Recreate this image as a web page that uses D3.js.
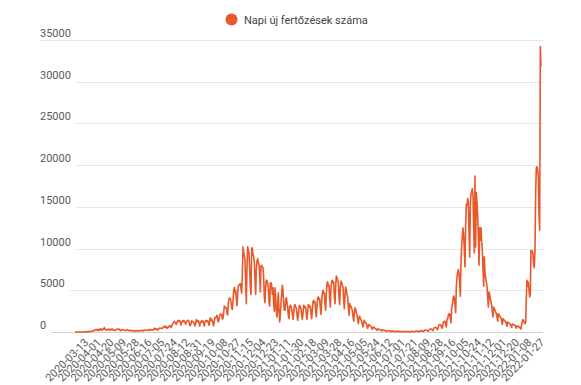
<!DOCTYPE html>
<html>
<head>
<meta charset="utf-8">
<script src="https://cdnjs.cloudflare.com/ajax/libs/d3/7.8.5/d3.min.js"></script>
<style>
  body { margin: 0; background: #fff; }
  text { font-family: Roboto, "Noto Sans", sans-serif; }
</style>
</head>
<body>
<div id="chart"></div>
<script>
const seriesName = "Napi új fertőzések száma";

// every 19th day gets a label, starting at the 17th data point
const labelStart = 16;
const labelStep = 19;
const tickLabels = [
  "2020-03-13", "2020-04-01", "2020-04-20", "2020-05-09", "2020-05-28", "2020-06-16",
  "2020-07-05", "2020-07-24", "2020-08-12", "2020-08-31", "2020-09-19", "2020-10-08",
  "2020-10-27", "2020-11-15", "2020-12-04", "2020-12-23", "2021-01-11", "2021-01-30",
  "2021-02-18", "2021-03-09", "2021-03-28", "2021-04-16", "2021-05-05", "2021-05-24",
  "2021-06-12", "2021-07-01", "2021-07-21", "2021-08-09", "2021-08-28", "2021-09-16",
  "2021-10-05", "2021-10-24", "2021-11-12", "2021-12-01", "2021-12-20", "2022-01-08",
  "2022-01-27"
];

const yTicks = [0, 5000, 10000, 15000, 20000, 25000, 30000, 35000];

// daily new cases, one row per week
const dailyCases = [
  1, 0, 1, 1, 0, 0, 0,
  2, 1, 3, 2, 1, 3, 2,
  14, 20, 30, 40, 22, 25, 45,
  60, 30, 47, 58, 66, 143, 186,
  144, 123, 263, 308, 293, 199, 308,
  264, 162, 294, 374, 383, 193, 271,
  355, 320, 523, 347, 307, 228, 246,
  333, 268, 359, 243, 231, 344, 268,
  368, 231, 226, 190, 196, 242, 237,
  337, 349, 328, 356, 245, 160, 253,
  224, 305, 267, 241, 213, 180, 168,
  205, 202, 287, 236, 158, 170, 190,
  139, 183, 168, 136, 130, 163, 118,
  134, 156, 165, 134, 160, 115, 142,
  153, 190, 202, 166, 113, 206, 230,
  174, 220, 209, 216, 197, 200, 183,
  320, 265, 225, 278, 221, 235, 283,
  460, 320, 331, 422, 325, 223, 294,
  422, 471, 441, 459, 439, 398, 555,
  614, 698, 555, 597, 664, 421, 574,
  560, 668, 777, 698, 531, 694, 889,
  1030, 1112, 1284, 1119, 1104, 901, 1151,
  1356, 1295, 1366, 1378, 1045, 849, 1152,
  1329, 1215, 1392, 1309, 1145, 943, 1227,
  1324, 1415, 1408, 1245, 834, 746, 1015,
  1346, 1301, 1182, 1177, 873, 733, 1103,
  1504, 1245, 1284, 1379, 1138, 715, 1067,
  1243, 1358, 1173, 1311, 1061, 697, 1175,
  1380, 1400, 1261, 1347, 1080, 810, 1345,
  1700, 1400, 1500, 1350, 1000, 750, 1350,
  1750, 1750, 1800, 2000, 1450, 1200, 1600,
  1950, 2150, 2100, 2100, 1550, 1600, 2350,
  3100, 2950, 2950, 2900, 2250, 2050, 3500,
  4000, 4000, 4050, 3600, 2900, 2700, 3650,
  4850, 5350, 4700, 5000, 3950, 3150, 4650,
  5550, 5600, 5750, 5800, 5200, 4650, 6900,
  10200, 9600, 9100, 8700, 6000, 3400, 7700,
  10200, 9800, 9500, 7700, 5300, 4500, 10100,
  10000, 9300, 9000, 8300, 6200, 4500, 7600,
  8500, 8800, 8400, 8100, 6800, 4800, 7900,
  8000, 7800, 7700, 6500, 4200, 3500, 5500,
  6200, 6200, 5800, 5300, 3700, 3100, 5900,
  5900, 5600, 4500, 5300, 3400, 2500, 5300,
  4200, 2500, 1800, 3200, 4700, 2500, 1200,
  2000, 3500, 4500, 5600, 5000, 3500, 2600,
  2600, 3800, 4100, 3500, 3000, 2000, 1600,
  3000, 3200, 3100, 2800, 2200, 1500, 2200,
  3100, 3300, 3000, 2900, 2100, 1400, 2000,
  3000, 3200, 3000, 2800, 2000, 1500, 2200,
  3200, 3100, 2900, 3000, 2100, 1500, 2400,
  3300, 3200, 3000, 3100, 2200, 1600, 2700,
  3600, 3800, 3500, 3600, 2500, 1800, 3200,
  4100, 4200, 3900, 4000, 2900, 2100, 3600,
  4700, 5000, 4600, 4700, 3300, 2600, 4500,
  5800, 6000, 5500, 5600, 4000, 3000, 5300,
  6100, 6200, 5900, 6000, 4300, 3400, 5400,
  6700, 6500, 6200, 5900, 4100, 3300, 5300,
  6100, 5900, 5600, 5400, 3800, 2800, 4400,
  5400, 5000, 4500, 4200, 3000, 2000, 3400,
  3000, 3100, 2800, 2600, 1900, 1300, 2200,
  2900, 2700, 2300, 2100, 1500, 1000, 1700,
  1900, 1600, 1500, 1300, 900, 600, 1100,
  1400, 1200, 1100, 1000, 700, 450, 800,
  900, 800, 700, 650, 450, 300, 550,
  600, 500, 450, 400, 290, 200, 350,
  380, 330, 300, 280, 190, 120, 230,
  250, 220, 200, 180, 120, 80, 150,
  160, 140, 130, 120, 90, 50, 100,
  110, 100, 90, 85, 60, 35, 70,
  80, 75, 70, 65, 45, 25, 55,
  65, 60, 55, 50, 35, 20, 50,
  55, 60, 50, 45, 30, 15, 45,
  70, 75, 80, 60, 40, 25, 70,
  90, 110, 100, 90, 60, 40, 110,
  130, 140, 150, 120, 80, 60, 170,
  200, 230, 220, 200, 140, 100, 260,
  330, 360, 350, 320, 230, 170, 420,
  500, 560, 540, 500, 350, 280, 650,
  850, 900, 880, 800, 550, 450, 1000,
  1200, 1300, 1250, 900, 600, 1500, 1600,
  2000, 2200, 2100, 1700, 1100, 2900, 3200,
  4000, 4300, 4100, 3300, 2300, 5500, 6500,
  7200, 7500, 7000, 6000, 4300, 8300, 10300,
  11500, 12500, 11600, 9800, 7800, 12900, 15300,
  15200, 16000, 15600, 12000, 9000, 15000, 16600,
  16800, 17200, 16400, 12500, 9500, 18700, 10200,
  16700, 15500, 14000, 11500, 8000, 12500, 11000,
  12500, 10800, 9800, 7500, 5500, 9000, 7000,
  6500, 6000, 5500, 4200, 3000, 4800, 4500,
  4000, 3500, 3200, 2500, 1800, 3000, 2800,
  2600, 2400, 2200, 1800, 1300, 2200, 2100,
  1900, 1800, 1700, 1300, 900, 1600, 1500,
  1400, 1300, 1200, 950, 700, 1200, 1100,
  1100, 1000, 900, 750, 550, 950, 900,
  900, 850, 800, 600, 450, 750, 700,
  700, 600, 550, 450, 350, 900, 1300,
  1500, 1300, 1100, 1000, 1200, 4200, 6200,
  5500, 6000, 5000, 4200, 4500, 9800, 9500,
  9700, 9300, 8000, 7700, 10000, 16700, 19700,
  19800, 19500, 18500, 14000, 12200, 34200, 31800
];

const width = 581;
const height = 385;
const lineColor = "#e8582b";

const svg = d3.select("#chart").append("svg")
  .attr("width", width)
  .attr("height", height);

const x = d3.scaleLinear()
  .domain([0, dailyCases.length - 1])
  .range([75, 541]);

const y = d3.scaleLinear()
  .domain([0, 35000])
  .range([332, 40]);

// y labels sit above their grid line, line starts after the label
const yAxis = svg.append("g");
yTicks.forEach(t => {
  const label = yAxis.append("text")
    .attr("x", 40)
    .attr("y", y(t) - 3)
    .attr("font-size", 11)
    .attr("fill", "#5a5a5a")
    .text(t);
  const w = label.node().getComputedTextLength();
  const x1 = (t === 35000) ? 40 : 40 + w + 5;
  yAxis.insert("line", "text")
    .attr("x1", x1)
    .attr("x2", 543)
    .attr("y1", Math.round(y(t)) + 0.5)
    .attr("y2", Math.round(y(t)) + 0.5)
    .attr("stroke", t === 0 ? "#cfcfcf" : "#e6e6e6")
    .attr("stroke-width", 1);
});

// x axis: rotated date labels
const xAxis = d3.axisBottom(x)
  .tickValues(tickLabels.map((_, i) => labelStart + i * labelStep))
  .tickFormat((d, i) => tickLabels[i])
  .tickSize(0);

const gx = svg.append("g")
  .attr("transform", "translate(0,332)")
  .call(xAxis);
gx.select(".domain").remove();
gx.selectAll("text")
  .attr("x", 0)
  .attr("y", 0)
  .attr("dy", 0)
  .attr("transform", "translate(3,11) rotate(-45)")
  .style("text-anchor", "end")
  .attr("font-size", 11)
  .attr("font-family", "Roboto, sans-serif")
  .attr("fill", "#5a5a5a");

// the series line
const line = d3.line()
  .x((d, i) => x(i))
  .y(d => y(d));

svg.append("path")
  .datum(dailyCases)
  .attr("d", line)
  .attr("fill", "none")
  .attr("stroke", lineColor)
  .attr("stroke-width", 1.6)
  .attr("stroke-linejoin", "round");

// legend
const legend = svg.append("g");
legend.append("circle")
  .attr("cx", 231.5)
  .attr("cy", 19.5)
  .attr("r", 6)
  .attr("fill", lineColor);
legend.append("text")
  .attr("x", 244)
  .attr("y", 23.5)
  .attr("font-size", 11)
  .attr("fill", "#444")
  .text(seriesName);
</script>
</body>
</html>
